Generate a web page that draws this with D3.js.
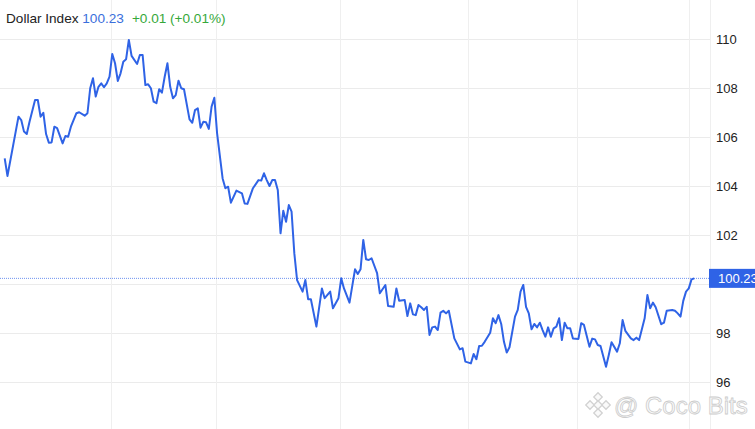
<!DOCTYPE html>
<html><head><meta charset="utf-8">
<script src="https://cdn.jsdelivr.net/npm/d3@7"></script>
<style>html,body{margin:0;padding:0;background:#fff;}svg{display:block;font-family:"Liberation Sans",Arial,sans-serif;}</style>
</head><body>
<svg id="c" width="755" height="429"></svg>
<script>
const title = "Dollar Index";
const lastValue = 100.23;
const changeText = "+0.01 (+0.01%)";
const yTicks = [96, 98, 100, 102, 104, 106, 108, 110];
const gridSessions = [38.5, 76.5, 121.5, 168, 207.5, 248];
const sessions = [0,1,5,6,7,8,9,11,12,13,14,15,16,17,18,19,21,22,23,24,26,27,29,30,31,32,33,34,35,36,37,38,39,40,41,42,43,44,45,46,48,49,50,51,52,53,54,55,56,57,58,59,60,61,62,63,64,65,67,68,69,70,71,72,73,74,75,76,77,79,80,81,82,84,86,87,88,90,92,93,94,95,96,97,98,99,100,101,102,103,104,105,106,108,109,110,111,113,115,116,118,119,121,122,123,125,127,128,129,130,131,132,133,135,136,138,139,141,142,143,145,146,147,148,149,150,151,152,153,154,155,156,157,158,159,160,161,163,165,166,167,169,170,171,172,173,174,176,177,178,179,180,181,182,183,185,186,187,188,189,190,191,192,193,194,195,196,197,198,199,200,201,202,203,204,205,206,208,209,210,212,213,214,215,216,218,219,220,222,223,224,225,227,228,229,230,232,233,234,235,236,238,239,240,242,243,244,245,246,247,248,249,250];
const values = [105.13,104.41,106.83,106.69,106.22,106.12,106.62,107.51,107.51,106.83,106.99,106.12,105.77,105.78,106.42,106.36,105.74,106.04,106.01,106.42,106.97,107.01,106.87,106.97,107.99,108.40,107.65,108.05,108.19,108.03,108.19,108.46,109.39,109.01,108.29,108.60,109.07,109.17,109.96,109.31,108.98,109.35,109.35,108.12,108.15,107.99,107.44,107.38,107.95,107.81,108.46,109.01,108.05,107.58,107.71,108.30,107.99,107.95,106.72,106.58,107.10,107.17,106.38,106.62,106.60,106.33,107.24,107.60,106.15,104.31,103.91,103.97,103.32,103.81,103.70,103.29,103.27,103.91,104.24,104.22,104.52,104.24,104.00,104.24,104.24,103.84,102.07,102.99,102.54,103.22,102.95,101.25,100.16,99.69,100.16,99.38,99.38,98.26,99.82,99.42,99.69,99.01,99.42,100.23,99.82,99.24,100.60,100.41,100.60,101.80,101.01,100.98,101.05,100.44,99.62,99.96,99.10,99.07,99.82,99.32,99.35,98.69,99.21,98.76,98.73,99.14,99.05,98.94,99.07,97.92,98.23,98.26,98.12,98.83,98.91,98.80,98.91,97.78,97.33,97.38,96.83,96.76,97.14,96.93,97.47,97.48,97.64,98.01,98.60,98.40,98.73,98.37,97.64,97.20,97.42,98.67,98.94,99.69,99.96,99.07,98.80,98.15,98.37,98.23,98.42,98.12,97.85,98.23,97.85,98.19,98.26,98.60,97.71,98.42,98.19,98.19,97.78,97.76,98.40,98.33,97.44,97.77,97.74,97.51,97.47,96.62,97.10,97.62,97.24,97.58,98.53,98.09,97.78,97.71,97.81,97.71,98.60,99.55,99.01,99.24,99.05,98.36,98.42,98.91,98.94,98.91,98.80,98.67,99.31,99.69,99.82,100.19,100.23];

const W = 755, H = 429, plotRight = 710;
const data = sessions.map((s, i) => ({s, v: values[i]}));
const svg = d3.select("#c");
const x = d3.scaleLinear().domain([0, 250]).range([4.7, 694.3]);
const y = d3.scaleLinear().domain([96, 110]).range([382, 39]);

// horizontal grid
svg.append("g").selectAll("line").data(yTicks).join("line")
  .attr("x1", 0).attr("x2", plotRight)
  .attr("y1", d => Math.round(y(d)) + 0.5).attr("y2", d => Math.round(y(d)) + 0.5)
  .attr("stroke", "#ebebeb").attr("stroke-width", 1);
// vertical grid
svg.append("g").selectAll("line").data(gridSessions).join("line")
  .attr("x1", d => Math.round(x(d)) + 0.5).attr("x2", d => Math.round(x(d)) + 0.5)
  .attr("y1", 0).attr("y2", H)
  .attr("stroke", "#efefef").attr("stroke-width", 1);
svg.append("line").attr("x1", plotRight + 0.5).attr("x2", plotRight + 0.5)
  .attr("y1", 0).attr("y2", H).attr("stroke", "#efefef");

// last value dotted line
svg.append("line").attr("x1", 0).attr("x2", plotRight)
  .attr("y1", y(lastValue)).attr("y2", y(lastValue))
  .attr("stroke", "#6f93f0").attr("stroke-width", 1).attr("stroke-dasharray", "1,1");

// watermark
const wm = svg.append("g");
const lc = [598, 405];
[[0,-8],[0,8],[-8,0],[8,0],[0,0]].forEach(([dx,dy]) => {
  const sz = 6;
  wm.append("rect").attr("x", -sz/2).attr("y", -sz/2).attr("width", sz).attr("height", sz)
    .attr("transform", `translate(${lc[0]+dx},${lc[1]+dy}) rotate(45)`)
    .attr("fill", "#fafafa").attr("stroke", "#d2d2d2").attr("stroke-width", 1.3);
});
wm.append("text").attr("x", 614).attr("y", 414).text("@ Coco Bits")
  .attr("font-size", 24).attr("fill", "#fafafa").attr("stroke", "#cccccc").attr("stroke-width", 0.8);

// line
svg.append("path").datum(data)
  .attr("d", d3.line().x(d => x(d.s)).y(d => y(d.v)))
  .attr("fill", "none").attr("stroke", "#2f63e6").attr("stroke-width", 2)
  .attr("stroke-linejoin", "round");

// right axis (labels hidden behind the last-value tag are omitted)
const shownTicks = yTicks.filter(t => Math.abs(y(t) - y(lastValue)) > 12);
const ax = svg.append("g").attr("transform", `translate(${plotRight},0)`)
  .call(d3.axisRight(y).tickValues(shownTicks).tickSize(0).tickPadding(6).tickFormat(d3.format("d")));
ax.select(".domain").remove();
ax.selectAll("text").attr("font-size", 13).attr("fill", "#222").attr("font-family", "Liberation Sans, Arial, sans-serif");

// last value label
svg.append("rect").attr("x", plotRight - 1).attr("y", y(lastValue) - 9.5).attr("width", W - plotRight + 1).attr("height", 19)
  .attr("fill", "#2f63e6");
svg.append("text").attr("x", 718).attr("y", y(lastValue)).attr("dy", "0.35em")
  .attr("font-size", 13).attr("fill", "#fff").text(lastValue.toFixed(2));

// header
const hd = svg.append("text").attr("x", 6).attr("y", 22.5).attr("font-size", 13.6);
hd.append("tspan").attr("fill", "#222").text(title + " ");
hd.append("tspan").attr("fill", "#3a6fdc").text(lastValue.toFixed(2));
hd.append("tspan").attr("fill", "#35a83a").attr("dx", 8).text(changeText);
</script>
</body></html>
